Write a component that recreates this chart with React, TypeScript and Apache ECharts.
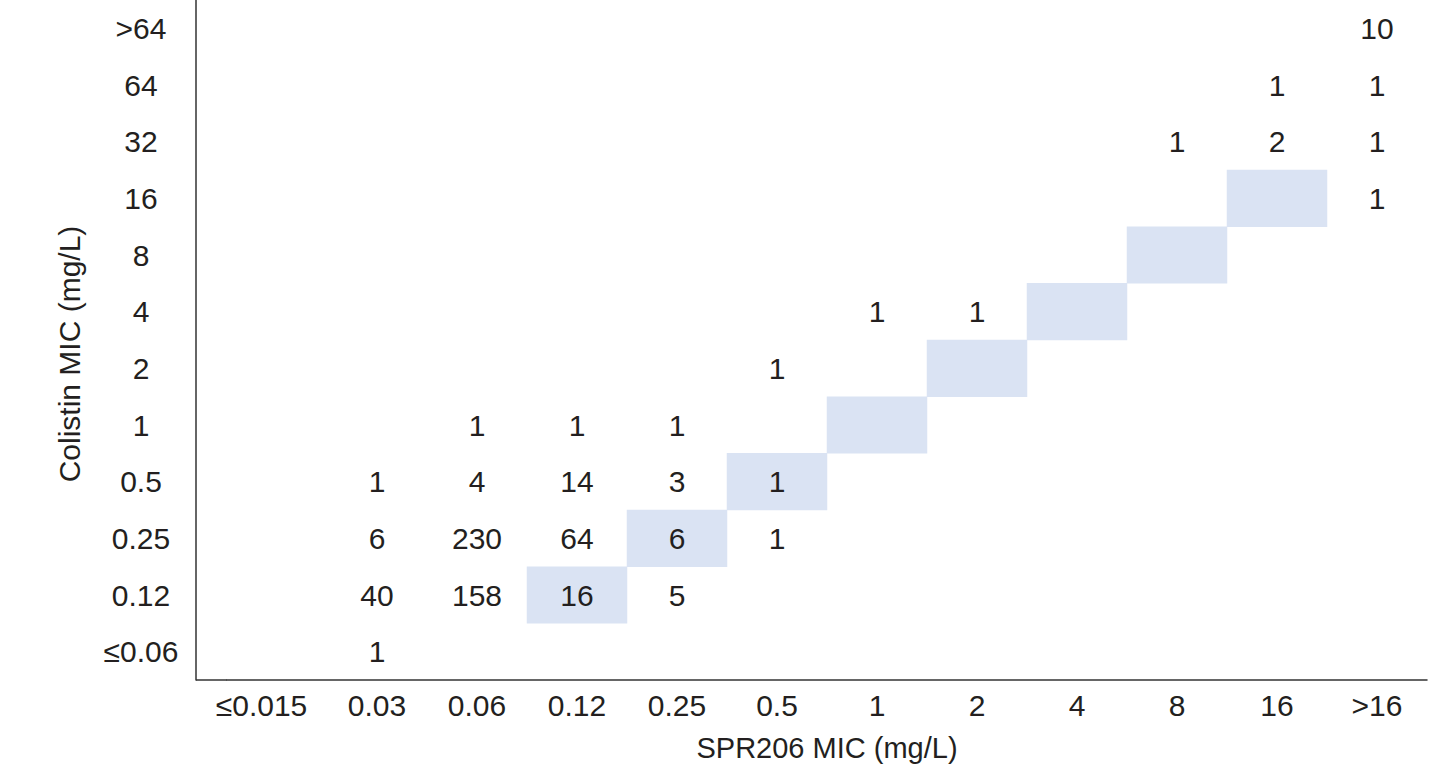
import React, { useEffect, useRef } from "react";
import * as echarts from "echarts";

// SPR206 MIC categories (x) and Colistin MIC categories (y, bottom to top)
const xCats = ["≤0.015", "0.03", "0.06", "0.12", "0.25", "0.5", "1", "2", "4", "8", "16", ">16"];
const yCats = ["≤0.06", "0.12", "0.25", "0.5", "1", "2", "4", "8", "16", "32", "64", ">64"];

// Shaded cells: identical MIC for both agents
const agreementLabels = ["0.12", "0.25", "0.5", "1", "2", "4", "8", "16"];

// Isolate counts: [SPR206 MIC, Colistin MIC, number of isolates]
const counts: [string, string, number][] = [
  ["0.03", "≤0.06", 1],
  ["0.03", "0.12", 40],
  ["0.06", "0.12", 158],
  ["0.12", "0.12", 16],
  ["0.25", "0.12", 5],
  ["0.03", "0.25", 6],
  ["0.06", "0.25", 230],
  ["0.12", "0.25", 64],
  ["0.25", "0.25", 6],
  ["0.5", "0.25", 1],
  ["0.03", "0.5", 1],
  ["0.06", "0.5", 4],
  ["0.12", "0.5", 14],
  ["0.25", "0.5", 3],
  ["0.5", "0.5", 1],
  ["0.06", "1", 1],
  ["0.12", "1", 1],
  ["0.25", "1", 1],
  ["0.5", "2", 1],
  ["1", "4", 1],
  ["2", "4", 1],
  [">16", "16", 1],
  ["8", "32", 1],
  ["16", "32", 2],
  [">16", "32", 1],
  ["16", "64", 1],
  [">16", "64", 1],
  [">16", ">64", 10],
];

const FONT = "'Liberation Sans', Arial, Helvetica, sans-serif";
const TEXT = "#231f20";
const AXIS = "#333333";
const SHADE = "#dae3f3";
const FS = 30;

const GRID_LEFT = 227;
const GRID_RIGHT = 20;
const GRID_TOP = 0;
const GRID_BOTTOM = 96;
const Y_OFFSET = 31;

export default function App() {
  const ref = useRef<HTMLDivElement>(null);

  useEffect(() => {
    if (!ref.current) return;
    const chart = echarts.init(ref.current, undefined, { renderer: "svg" });
    const H = 776;
    const axisY = H - GRID_BOTTOM;

    const shadeData = agreementLabels.map((l) => [xCats.indexOf(l), yCats.indexOf(l), 1]);
    const countData = counts.map(([x, y, v]) => [xCats.indexOf(x), yCats.indexOf(y), v]);

    chart.setOption({
      animation: false,
      grid: { left: GRID_LEFT, right: GRID_RIGHT, top: GRID_TOP, bottom: GRID_BOTTOM },
      visualMap: {
        show: false,
        type: "continuous",
        seriesIndex: 0,
        dimension: 2,
        min: 0,
        max: 1,
        inRange: { color: [SHADE, SHADE] },
      },
      xAxis: {
        type: "category",
        data: xCats,
        axisLine: { show: true, lineStyle: { color: AXIS, width: 1.5 } },
        axisTick: { show: false },
        splitLine: { show: false },
        splitArea: { show: false },
        axisLabel: {
          interval: 0,
          margin: 10,
          fontSize: FS,
          color: TEXT,
          fontFamily: FONT,
          formatter: (v: string) => (v === xCats[0] ? `{first|${v}}` : v),
          rich: {
            first: { padding: [0, 31, 0, 0], fontSize: FS, color: TEXT, fontFamily: FONT },
          },
        },
        name: "SPR206 MIC (mg/L)",
        nameLocation: "middle",
        nameGap: 53,
        nameTextStyle: { fontSize: 29, color: TEXT, fontFamily: FONT },
      },
      yAxis: {
        type: "category",
        data: yCats,
        offset: Y_OFFSET,
        axisLine: { show: true, lineStyle: { color: AXIS, width: 1.5 } },
        axisTick: { show: false },
        splitLine: { show: false },
        splitArea: { show: false },
        axisLabel: {
          interval: 0,
          margin: 55,
          align: "center",
          fontSize: FS,
          color: TEXT,
          fontFamily: FONT,
        },
        name: "Colistin MIC (mg/L)",
        nameLocation: "middle",
        nameGap: 112,
        nameRotate: 90,
        nameTextStyle: { fontSize: FS, color: TEXT, fontFamily: FONT, padding: [0, 28, 0, 0] },
      },
      graphic: [
        {
          type: "line",
          silent: true,
          shape: { x1: GRID_LEFT - Y_OFFSET, y1: axisY, x2: GRID_LEFT, y2: axisY },
          style: { stroke: AXIS, lineWidth: 1.5 },
        },
      ],
      series: [
        {
          type: "heatmap",
          name: "agreement",
          data: shadeData,
          silent: true,
          label: { show: false },
          emphasis: { disabled: true },
        },
        {
          type: "scatter",
          name: "counts",
          data: countData,
          silent: true,
          symbol: "rect",
          symbolSize: 1,
          itemStyle: { color: "rgba(0,0,0,0)", opacity: 1 },
          label: {
            show: true,
            position: "inside",
            formatter: (p: any) => String(p.value[2]),
            fontSize: FS,
            color: TEXT,
            opacity: 1,
            textBorderWidth: 0,
            textBorderColor: "transparent",
            fontFamily: FONT,
          },
          emphasis: { disabled: true },
        },
      ],
    });

    return () => chart.dispose();
  }, []);

  return (
    <div
      ref={ref}
      style={{ position: "fixed", left: 0, top: 0, width: 1447, height: 776, background: "#fff" }}
    />
  );
}
